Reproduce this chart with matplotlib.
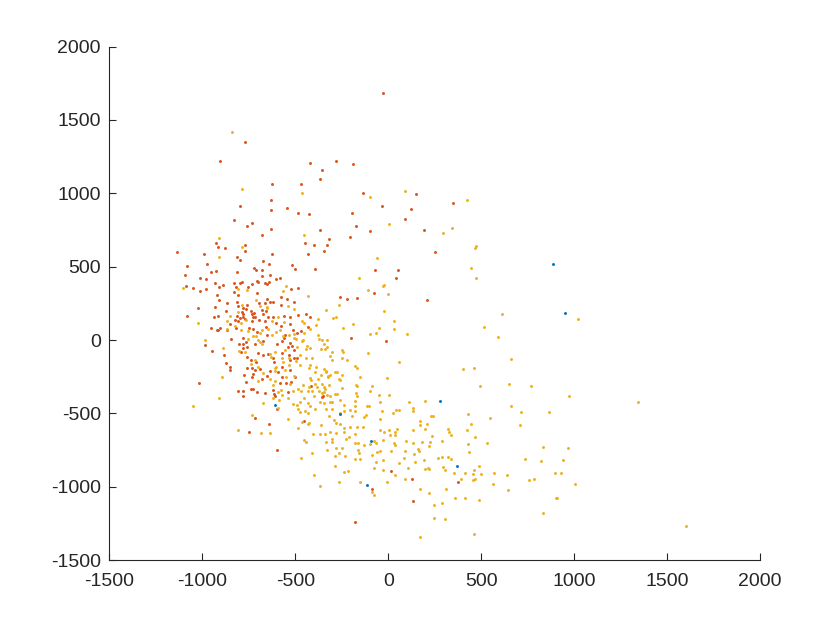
import matplotlib.pyplot as plt
import numpy as np

# point clouds, one array per group (x, y)
orange_pts = np.array([
    [-771, 1350], [-904, 1218], [-626, 1061], [-629, 952], [-796, 915], [-545, 899], [-631, 883],
    [-829, 817], [-732, 797], [-760, 774], [-631, 758], [-678, 713],
    [-30, 1684], [-421, 1204], [-281, 1222], [-190, 1201], [-358, 1156], [-368, 1099], [-470, 1065],
    [-134, 1004], [151, 995], [-35, 913], [124, 895], [-486, 865], [-425, 856], [-197, 863], [88, 822],
    [-175, 776], [-366, 747], [-100, 742], [194, 749], [-206, 699], [-319, 688], [349, 933],
    [-924, 660], [-770, 649], [-917, 633], [-878, 624], [-770, 606], [-1133, 601], [-993, 587],
    [-624, 585], [-811, 567], [-798, 544], [-671, 542], [-975, 519], [-1081, 503], [-518, 512],
    [-503, 483], [-721, 494], [-642, 515], [-680, 478], [-710, 476], [-924, 469], [-955, 462],
    [-815, 462], [-1094, 440], [-1011, 426], [-978, 415], [-680, 435], [-635, 442], [-604, 417],
    [-584, 426], [-708, 403], [-698, 394], [-665, 392], [-653, 385], [-642, 394], [-932, 392],
    [-890, 376], [-827, 392], [-798, 387], [-788, 396], [-730, 383], [-1086, 365], [-1047, 358],
    [-982, 346], [-1013, 337], [-910, 362], [-820, 362], [-755, 360], [-521, 351], [-829, 324],
    [-806, 310], [-923, 310], [-703, 319], [-908, 276], [-813, 262], [-653, 278], [-636, 262],
    [-618, 260], [-692, 253], [-663, 253], [-867, 249], [-575, 296], [-545, 283], [-505, 258],
    [-806, 235], [-761, 242], [-575, 237], [-930, 226], [-1023, 215], [-780, 217], [-874, 201],
    [-762, 212], [-680, 203], [-658, 201], [-786, 192], [-779, 178], [-782, 160], [-735, 199],
    [-721, 187], [-734, 180], [-672, 176], [-815, 165], [-797, 153], [-770, 144], [-726, 158],
    [-714, 158], [-644, 160], [-618, 160], [-561, 162], [-527, 155], [-937, 158], [-914, 162],
    [-822, 135], [-806, 128], [-734, 133], [-694, 137], [-662, 133], [-604, 119], [-530, 110],
    [-1081, 165], [-851, 108], [-816, 80], [-748, 85], [-726, 78], [-707, 55], [-658, 87],
    [-577, 96], [-953, 85], [-915, 71], [-903, 83], [-923, 67], [-869, 69], [-653, 35], [-555, 35],
    [-559, 17], [-514, 69], [-779, 12], [-847, 8], [-766, -13], [-671, -8], [-717, -26], [-780, -29],
    [-780, -52], [-800, -24], [-987, -33], [-757, -47], [-600, -29], [-570, -4], [-528, -20],
    [-518, -40], [-541, -49], [-946, -77], [-789, -79], [-701, -90], [-672, -99], [-645, -95],
    [-570, -86], [-534, -99], [-507, -65], [-885, -104], [-761, -115], [-739, -136], [-620, -124],
    [-505, -122], [-527, -138], [-870, -156], [-712, -152], [-613, -152], [-570, -181], [-757, -188],
    [-730, -190], [-717, -206], [-690, -199], [-635, -213], [-654, -243], [-595, -220], [-528, -204],
    [-851, -181], [-851, -204], [-773, -236], [-726, -229], [-730, -254], [-680, -268], [-570, -254],
    [-503, -254], [-582, -290], [-552, -295], [-523, -286], [-1016, -295], [-762, -288], [-739, -331],
    [-725, -331],
    [-448, 660], [-397, 647], [-329, 649], [-431, 585], [-345, 606], [-394, 483], [-73, 476], [55, 474],
    [40, 424], [-484, 353], [-75, 319], [-260, 294], [-221, 281], [-167, 287], [-487, 169], [-444, 174],
    [-419, 158], [-433, 87], [-469, 64], [-489, 46], [-199, 17], [-12, -8], [-489, -122], [-417, -311],
    [252, 601], [207, 274],
    [-809, -349], [-780, -347], [-705, -351], [-660, -360], [-618, -342], [-539, -351], [-780, -379],
    [-613, -367], [-611, -385], [-600, -470], [-717, -533], [-640, -570], [-748, -629], [-599, -752],
    [-358, -390], [-349, -381], [-453, -551], [15, -895], [130, -945], [-88, -1015], [134, -1100],
    [-179, -1243], [373, -965],
])

yellow_pts = np.array([
    [-838, 1416], [-787, 1031], [-911, 697], [-464, 999], [-96, 974], [88, 1015], [4, 788], [-454, 715],
    [424, 954], [343, 763], [295, 729],
    [-784, 633], [-910, 565], [-1101, 358], [-809, 349], [-759, 344], [-550, 365], [-563, 335],
    [-710, 271], [-784, 240], [-689, 235], [-654, 228], [-654, 215], [-541, 235], [-505, 212],
    [-809, 192], [-852, 165], [-591, 160], [-865, 133], [-793, 119], [-764, 135], [-624, 128],
    [-559, 124], [-1020, 119], [-825, 96], [-865, 74], [-791, 67], [-755, 60], [-680, 69], [-644, 78],
    [-604, 58], [-581, 67], [-690, 46], [-624, 35], [-568, 26], [-536, 37], [-505, 39], [-509, 12],
    [-725, 24], [-712, 26], [-755, 5], [-701, 3], [-687, -15], [-676, -29], [-987, 1], [-890, -54],
    [-557, -67], [-802, -72], [-770, -79], [-636, -97], [-631, -113], [-606, -83], [-716, -133],
    [-572, -124], [-566, -149], [-536, -120], [-737, -165], [-602, -183], [-608, -188], [-532, -172],
    [-701, -181], [-674, -222], [-608, -208], [-555, -206], [-894, -254], [-701, -277], [-638, -265],
    [-548, -254], [-509, -243], [-609, -281], [-527, -302], [-618, -308],
    [-59, 558], [-158, 426], [-106, 340], [-28, 369], [-21, 376], [-3, 315], [-431, 301], [-266, 237],
    [-336, 203], [-25, 201], [-377, 146], [-296, 149], [-280, 160], [-462, 133], [-453, 117],
    [-390, 103], [-421, 74], [-453, 46], [-188, 108], [-241, 85], [-50, 85], [31, 128], [31, 76],
    [103, 44], [-98, 42], [-64, 49], [-377, 33], [-374, 8], [-498, 8], [-464, -6], [-457, -2],
    [-354, -2], [-329, 1], [-345, -26], [-331, -45], [-338, -63], [-359, -61], [-493, -49], [-439, -42],
    [-419, -54], [-442, -63], [-304, -81], [-250, -70], [-242, -81], [-106, -90], [-475, -104],
    [-498, -140], [-444, -124], [-408, -120], [-311, -106], [-300, -133], [-250, -122], [-224, -136],
    [56, -149], [-181, -179], [-167, -193], [-151, -252], [-5, -256], [-476, -170], [-422, -172],
    [-426, -190], [-388, -181], [-343, -199], [-332, -208], [-363, -236], [-336, -220], [-325, -243],
    [-322, -254], [-311, -238], [-287, -220], [-277, -218], [-264, -263], [-257, -270], [-246, -238],
    [-395, -218], [-422, -256], [-415, -272], [-379, -265], [-460, -306], [-424, -320], [-395, -299],
    [-383, -318], [-354, -299], [-345, -318], [-318, -304], [-340, -331], [-484, -331], [-248, -324],
    [-174, -304], [-167, -313], [-88, -313],
    [465, 628], [472, 642], [443, 490], [470, 421], [614, 176], [513, 92], [593, 21], [659, -131],
    [459, -188], [404, -199], [492, -315], [647, -297], [769, -313], [1021, 144],
    [-595, -351], [-577, -342], [-514, -349], [-908, -397], [-1050, -449], [-672, -426], [-622, -395],
    [-572, -372], [-537, -397], [-586, -406], [-512, -438], [-593, -463], [-732, -513], [-537, -540],
    [-809, -615], [-685, -633], [-636, -631],
    [-471, -345], [-433, -345], [-408, -347], [-372, -345], [-354, -363], [-345, -351], [-327, -372],
    [-313, -383], [-286, -370], [-277, -367], [-174, -358], [-170, -381], [-98, -345], [-50, -372],
    [6, -372], [-453, -395], [-399, -379], [-489, -442], [-473, -420], [-433, -426], [-421, -449],
    [-368, -422], [-347, -431], [-313, -422], [-300, -422], [-259, -408], [-237, -440], [-178, -417],
    [-176, -451], [-116, -449], [-102, -447], [-43, -424], [112, -422], [197, -415], [-484, -472],
    [-476, -492], [-446, -486], [-431, -499], [-394, -470], [-334, -472], [-300, -470], [-260, -495],
    [-235, -486], [-203, -476], [-178, -486], [-120, -508], [-129, -522], [-196, -517], [-318, -520],
    [-34, -486], [24, -499], [42, -476], [60, -476], [132, -481], [136, -465], [-466, -556],
    [-431, -572], [-426, -565], [-291, -547], [-278, -563], [-259, -574], [-44, -540], [-363, -581],
    [-484, -599], [-404, -638], [-367, -642], [-338, -640], [-313, -629], [-280, -633], [-237, -602],
    [-235, -627], [-208, -590], [-179, -642], [-169, -590], [-136, -590], [-46, -613], [-23, -629],
    [6, -613], [8, -647], [37, -629], [46, -604], [38, -645], [136, -615], [170, -554], [170, -581],
    [197, -606], [-455, -683], [-442, -697], [-336, -697], [-304, -677], [-300, -695], [-228, -674],
    [-210, -658], [-181, -704], [-163, -704], [-131, -717], [-98, -708], [-75, -686], [-64, -699],
    [-28, -679], [29, -704], [38, -715], [94, -688], [136, -704], [181, -692], [-329, -749],
    [-278, -738], [-250, -733], [-163, -747], [-156, -770], [-62, -761], [-43, -756], [13, -754],
    [89, -754], [161, -745], [168, -758], [141, -777], [-412, -772], [-467, -804], [-284, -788],
    [-264, -772], [-233, -788], [-181, -811], [-152, -808], [-89, -786], [-66, -829], [-26, -815],
    [58, -836], [83, -802], [143, -833], [191, -815], [-286, -858], [-77, -874], [-30, -888],
    [35, -920], [105, -870], [197, -877], [-235, -899], [-215, -893], [-401, -922], [91, -945],
    [-5, -970], [-154, -968], [-264, -968], [-367, -993], [-86, -1036], [-75, -1059], [172, -1015],
    [172, -1343],
    [661, -449], [713, -492], [864, -492], [229, -517], [243, -515], [431, -504], [548, -531],
    [207, -572], [447, -574], [706, -576], [324, -606], [328, -629], [339, -649], [423, -615],
    [465, -663], [233, -654], [225, -692], [287, -690], [220, -724], [431, -706], [531, -699],
    [832, -729], [432, -765], [270, -804], [288, -797], [321, -799], [339, -813], [737, -811],
    [819, -822], [297, -865], [306, -886], [488, -861], [459, -886], [215, -874], [222, -877],
    [353, -909], [413, -909], [567, -906], [501, -915], [456, -915], [641, -922], [899, -906],
    [393, -949], [454, -952], [467, -949], [755, -952], [782, -949], [566, -984], [310, -1013],
    [645, -1022], [222, -1043], [360, -1079], [414, -1075], [490, -1088], [902, -1079], [287, -1111],
    [245, -1125], [834, -1181], [247, -1213], [306, -1218], [459, -1320],
    [970, -379], [1343, -424], [969, -733], [942, -820], [927, -904], [1003, -979], [906, -1079],
    [1600, -1265],
])

blue_pts = np.array([
    [886, 519], [952, 183], [-606, -445], [-257, -504], [-91, -686], [-113, -990],
    [279, -413], [371, -858],
])

colors = {'orange': '#D95319', 'yellow': '#EDB120', 'blue': '#0072BD'}
ticks = [-1500, -1000, -500, 0, 500, 1000, 1500, 2000]

plt.rcParams['font.family'] = ['Liberation Sans', 'DejaVu Sans']
plt.rcParams['axes.unicode_minus'] = False

fig = plt.figure(figsize=(8.4, 6.3), dpi=100)
ax = fig.add_axes([0.13, 0.111, 0.775, 0.815])

ax.scatter(orange_pts[:, 0], orange_pts[:, 1], s=4.5, marker='o', color=colors['orange'], linewidths=0)
ax.scatter(yellow_pts[:, 0], yellow_pts[:, 1], s=4.5, marker='o', color=colors['yellow'], linewidths=0)
ax.scatter(blue_pts[:, 0], blue_pts[:, 1], s=4.5, marker='o', color=colors['blue'], linewidths=0)

ax.set_xlim(-1500, 2000)
ax.set_ylim(-1500, 2000)
ax.set_xticks(ticks)
ax.set_yticks(ticks)

for side in ['top', 'right']:
    ax.spines[side].set_visible(False)
for side in ['left', 'bottom']:
    ax.spines[side].set_color('#262626')
    ax.spines[side].set_linewidth(0.8)
ax.tick_params(direction='in', length=5, width=0.8, colors='#262626', labelsize=14)
ax.tick_params(axis='x', pad=9)
ax.tick_params(axis='y', pad=6)

fig.savefig('out.png', dpi=100)
